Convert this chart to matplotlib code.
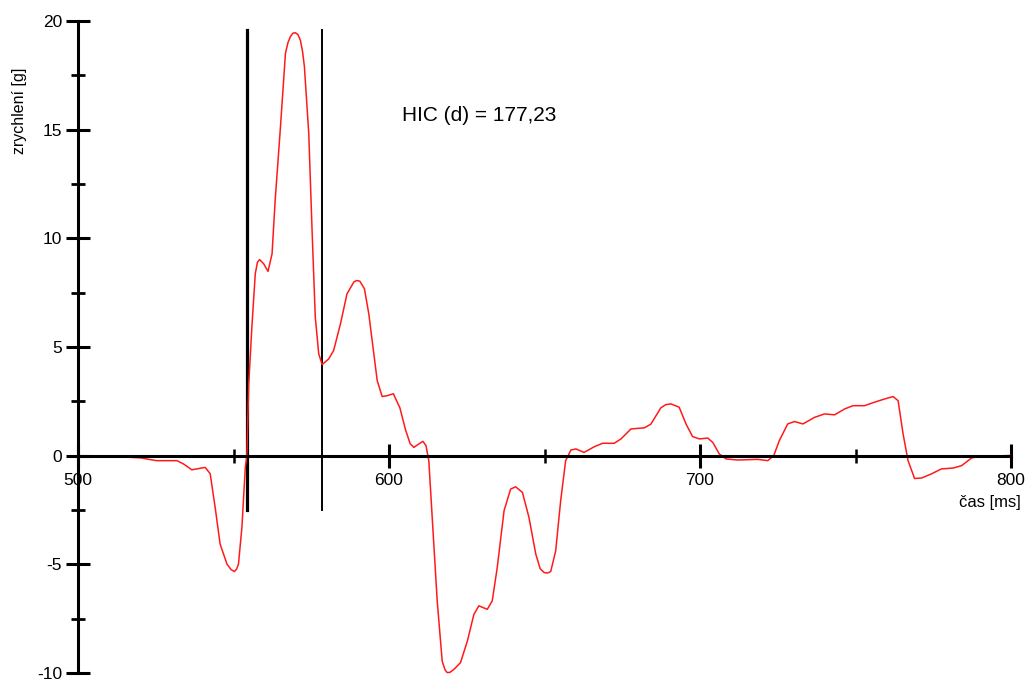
import matplotlib
matplotlib.use("Agg")
import matplotlib.pyplot as plt

plt.rcParams["font.family"] = ["Liberation Sans", "DejaVu Sans"]

# průběh zrychlení hlavy: čas [ms], zrychlení [g]
cas = [
    500.0, 510.0, 520.0, 525.3, 531.8, 533.9, 536.6, 539.3, 540.9, 542.5,
    544.1, 545.7, 547.9, 549.2, 550.3, 551.0, 551.6, 552.7, 553.8, 554.3,
    554.9, 555.9, 557.0, 557.7, 558.4, 559.7, 561.1, 562.4, 563.4, 565.1,
    566.7, 567.5, 568.3, 569.1, 569.9, 570.7, 571.5, 572.2, 572.8, 574.2,
    575.3, 576.3, 577.4, 578.5, 580.6, 582.2, 584.4, 586.5, 588.7, 589.6,
    590.6, 592.1, 593.5, 595.1, 596.2, 597.8, 599.4, 601.4, 603.5, 605.3,
    606.8, 608.0, 609.6, 610.9, 611.9, 612.8, 613.9, 615.5, 617.1, 618.0,
    618.7, 619.6, 620.9, 623.0, 625.2, 627.3, 628.9, 631.6, 633.2, 634.8,
    637.0, 639.1, 640.7, 642.9, 645.0, 647.2, 648.6, 649.9, 651.0, 652.0,
    653.6, 655.2, 656.8, 658.5, 660.1, 662.7, 666.0, 668.7, 672.4, 674.6,
    677.8, 682.1, 684.2, 687.4, 689.0, 690.7, 693.3, 695.5, 697.6, 699.8,
    702.5, 704.1, 706.2, 708.4, 712.1, 718.6, 721.8, 723.7, 725.5, 728.2,
    730.4, 733.1, 736.8, 740.0, 743.3, 746.5, 749.2, 752.9, 756.1, 759.4,
    762.1, 763.7, 765.3, 766.9, 769.0, 771.2, 774.4, 777.6, 781.4, 784.1,
    787.3, 788.9, 795.9, 800.0,
]
zrychleni = [
    0.0, -0.03, -0.1, -0.23, -0.23, -0.38, -0.65, -0.58, -0.54, -0.83,
    -2.38, -4.07, -4.99, -5.24, -5.33, -5.22, -4.99, -3.3, -0.54, 0.0,
    3.3, 5.9, 8.37, 8.9, 9.02, 8.83, 8.48, 9.29, 11.75, 15.13,
    18.51, 19.0, 19.28, 19.44, 19.46, 19.38, 19.12, 18.6, 17.9, 14.82,
    10.22, 6.37, 4.69, 4.19, 4.45, 4.84, 6.07, 7.45, 7.99, 8.06,
    8.03, 7.68, 6.53, 4.69, 3.46, 2.72, 2.76, 2.85, 2.2, 1.2,
    0.55, 0.38, 0.54, 0.66, 0.46, -0.23, -2.84, -6.68, -9.45, -9.85,
    -9.98, -9.97, -9.83, -9.52, -8.53, -7.3, -6.91, -7.07, -6.68, -5.15,
    -2.53, -1.54, -1.43, -1.69, -2.84, -4.53, -5.2, -5.38, -5.4, -5.33,
    -4.38, -2.07, -0.23, 0.26, 0.31, 0.15, 0.41, 0.57, 0.57, 0.77,
    1.23, 1.28, 1.45, 2.2, 2.35, 2.38, 2.23, 1.46, 0.88, 0.77,
    0.81, 0.61, 0.08, -0.15, -0.2, -0.17, -0.23, 0.0, 0.69, 1.46,
    1.57, 1.46, 1.76, 1.92, 1.88, 2.15, 2.3, 2.3, 2.46, 2.61,
    2.72, 2.53, 1.0, -0.23, -1.05, -1.03, -0.84, -0.61, -0.57, -0.46,
    -0.11, -0.05, -0.01, 0.01,
]

# interval HIC
hic_t1 = 554.3
hic_t2 = 578.3
hic_hodnota = "177,23"
znacka_dole = -2.5
znacka_nahore = 19.6

x_major = [500, 600, 700, 800]
x_minor = [550, 650, 750]
y_major = [-10, -5, 0, 5, 10, 15, 20]
y_minor = [-7.5, -2.5, 2.5, 7.5, 12.5, 17.5]

fig = plt.figure(figsize=(10.26, 6.79), dpi=100)
ax = fig.add_axes([78 / 1026, 6 / 679, 933 / 1026, 652 / 679])
ax.set_xlim(500, 800)
ax.set_ylim(-10, 20)

ax.plot(cas, zrychleni, color="#ff1a1a", linewidth=1.1, clip_on=False, zorder=3)

ax.plot([hic_t1, hic_t1], [znacka_dole, znacka_nahore], color="black", linewidth=2.3, zorder=2)
ax.plot([hic_t2, hic_t2], [znacka_dole, znacka_nahore], color="black", linewidth=1.4, zorder=2)

ax.text(604.3, 15.65, f"HIC (d) = {hic_hodnota}", fontsize=15, va="center", ha="left")

# osy křížem v bodě (500, 0)
for s in ["top", "right"]:
    ax.spines[s].set_visible(False)
ax.spines["left"].set_position(("data", 500))
ax.spines["bottom"].set_position(("data", 0))
ax.spines["left"].set_linewidth(2.2)
ax.spines["bottom"].set_linewidth(2.2)
ax.spines["left"].set_zorder(4)
ax.spines["bottom"].set_zorder(4)

ax.set_xticks(x_major)
ax.set_xticks(x_minor, minor=True)
ax.set_yticks(y_major)
ax.set_yticks(y_minor, minor=True)
ax.set_xticklabels([str(v) for v in x_major])
ax.set_yticklabels([str(v) for v in y_major])

ax.tick_params(which="major", direction="inout", length=17, width=2.2, labelsize=12.5, pad=3)
ax.tick_params(which="minor", direction="inout", length=10.5, width=2.0)
ax.tick_params(axis="x", which="major", pad=4)
ax.tick_params(axis="x", which="minor", width=1.8)

fig.text(1021 / 1026, 1 - 503 / 679, "čas [ms]", fontsize=12, ha="right", va="center")
fig.text(20 / 1026, 1 - 111 / 679, "zrychlení [g]", fontsize=11.5, rotation=90, ha="center", va="center")

fig.savefig("out.png", dpi=100)
